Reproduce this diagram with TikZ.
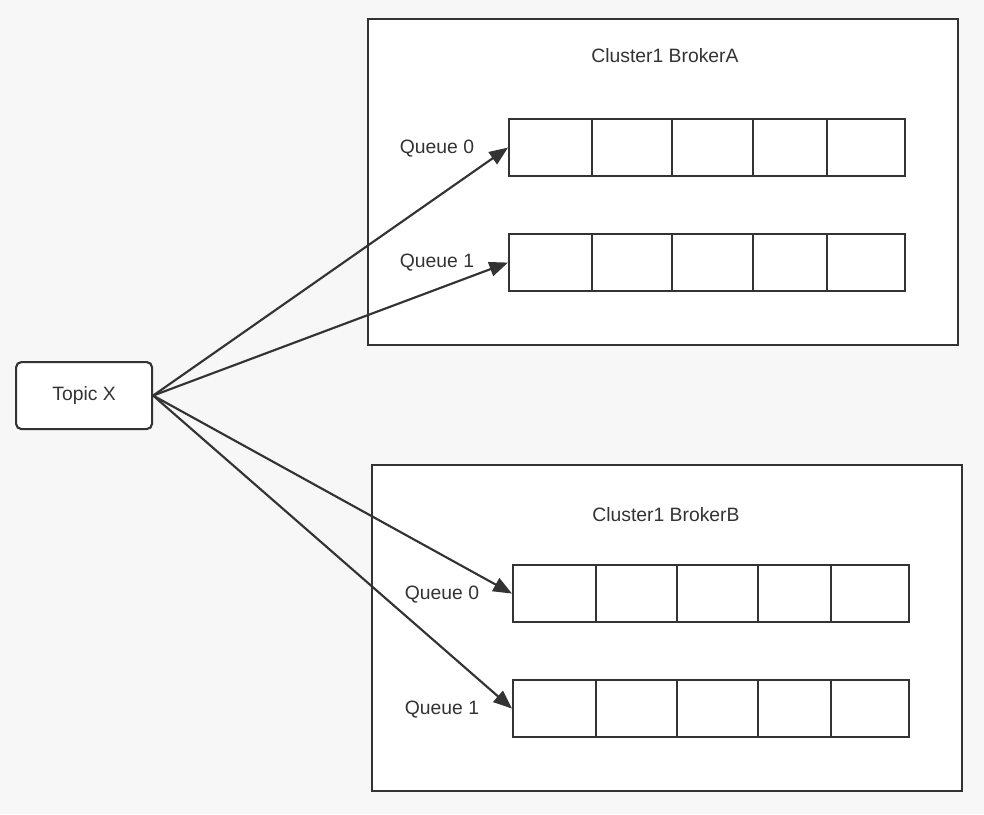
\documentclass[tikz,border=0pt]{standalone}
\usepackage{fontspec}
\setmainfont{Liberation Sans}
\usetikzlibrary{arrows.meta}
\definecolor{ink}{HTML}{333333}
\definecolor{bg}{HTML}{F7F7F7}
\begin{document}
\begin{tikzpicture}[x=0.75pt,y=-0.75pt,
  box/.style={draw=ink,line width=1.6pt,fill=white,inner sep=0pt},
  lbl/.style={font=\fontsize{14.5}{16}\selectfont,text=ink,inner sep=0pt},
  conn/.style={draw=ink,line width=1.6pt,-{Triangle[length=14pt,width=11pt]}}]
\fill[bg] (0,0) rectangle (984,814);
\useasboundingbox (0,0) rectangle (984,814);
% brokers
\node[box,minimum width=590*0.75pt,minimum height=326*0.75pt,anchor=north west] (ba) at (367,18) {};
\node[box,minimum width=590*0.75pt,minimum height=326*0.75pt,anchor=north west] (bb) at (371,464) {};
\node[lbl] (ta) at (665,56) {Cluster1 BrokerA};
\node[lbl] (tb) at (666,515) {Cluster1 BrokerB};
% topic
\node[box,rounded corners=4pt,minimum width=136*0.75pt,minimum height=67*0.75pt,anchor=north west] (tx) at (15,361) {};
\node[lbl] (txl) at (tx.center) {Topic X};
% queues
\foreach \n/\x/\y/\a/\b/\c/\d in {qa0/508/118/592/672/753/827, qa1/508/233/592/672/753/827, qb0/512/564/596/677/758/831, qb1/512/679/596/677/758/831}{
  \node[box,minimum width=396*0.75pt,minimum height=57*0.75pt,anchor=north west] (\n) at (\x,\y) {};
  \foreach \v in {\a,\b,\c,\d}{
    \draw[ink,line width=1.6pt] (\v,\y) -- (\v,\y+57);
  }
}
\node[lbl] (la0) at (437,149) {Queue 0};
\node[lbl] (la1) at (437,263) {Queue 1};
\node[lbl] (lb0) at (442,595) {Queue 0};
\node[lbl] (lb1) at (442,710) {Queue 1};
% connectors
\draw[conn] (tx.east) -- (qa0.west);
\draw[conn] (tx.east) -- (qa1.west);
\draw[conn] (tx.east) -- (qb0.west);
\draw[conn] (tx.east) -- (qb1.west);
\end{tikzpicture}
\end{document}
